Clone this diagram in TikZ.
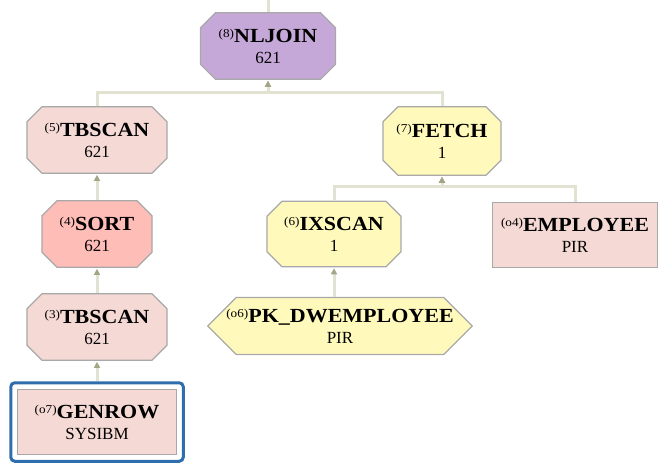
\documentclass[tikz,border=0pt]{standalone}
\usepackage{fontspec}
\setmainfont{Liberation Serif}
\newfontfamily\namefamily{Liberation Serif}[FakeStretch=1.1]
\usetikzlibrary{arrows.meta,shapes.misc,shapes.symbols,fit}

\definecolor{joinpurple}{HTML}{C6A8D8}
\definecolor{scanpink}{HTML}{F5D9D5}
\definecolor{sortpink}{HTML}{FFBDB8}
\definecolor{fetchyellow}{HTML}{FFFABC}
\definecolor{boxgray}{HTML}{A8A8A8}
\definecolor{linkbeige}{HTML}{E2E2D2}
\definecolor{tipolive}{HTML}{A4A486}
\definecolor{selblue}{HTML}{2F6EAC}

\newcommand{\stepno}[1]{\raisebox{5pt}{\namefamily\fontsize{12}{12}\selectfont\mdseries(#1)}}
\newcommand{\opname}[1]{{\namefamily\fontsize{20}{22}\selectfont\bfseries #1}}

\begin{document}
\begin{tikzpicture}[
  x=1pt, y=-1pt,
  every node/.style={font=\fontsize{17}{21}\selectfont},
  opbox/.style={
    chamfered rectangle, chamfered rectangle sep=7.5pt,
    draw=boxgray, line width=1.2pt, align=center,
    inner xsep=0pt, inner ysep=8.5pt, text width=#1
  },
  tablebox/.style={
    rectangle, draw=boxgray, line width=1.5pt, fill=scanpink,
    align=center, inner sep=0pt
  },
  indexbox/.style={
    signal, signal to=west and east, signal pointer angle=90,
    draw=boxgray, line width=1.2pt, fill=fetchyellow,
    align=center, inner xsep=-10pt, inner ysep=0pt
  },
  selframe/.style={
    rectangle, rounded corners=4pt, draw=selblue, line width=3pt, inner sep=6pt
  },
  link/.style={
    draw=linkbeige, line width=3pt,
    -{Triangle[length=6pt,width=6pt,color=tipolive]}, shorten >=1pt
  },
  stub/.style={draw=linkbeige, line width=3pt},
]
\useasboundingbox (0,0) rectangle (660,463);

% --- Nodes ---
\node[opbox=120pt, fill=joinpurple] (nljoin) at (268,46)
  {\stepno{8}\opname{NLJOIN}\\621};

\node[opbox=125pt, fill=scanpink] (tbscanB) at (97,140)
  {\stepno{5}\opname{TBSCAN}\\621};

\node[opbox=103pt, fill=fetchyellow, inner ysep=9.5pt] (fetch) at (442,141)
  {\stepno{7}\opname{FETCH}\\1};

\node[opbox=95pt, fill=sortpink] (sort) at (97,234)
  {\stepno{4}\opname{SORT}\\621};

\node[opbox=119pt, fill=fetchyellow, inner ysep=8pt] (ixscan) at (334,234)
  {\stepno{6}\opname{IXSCAN}\\1};

\node[tablebox, minimum width=165pt, minimum height=65pt] (employee) at (575,235)
  {\stepno{o4}\opname{EMPLOYEE}\\PIR};

\node[opbox=125pt, fill=scanpink] (tbscanA) at (97,327)
  {\stepno{3}\opname{TBSCAN}\\621};

\node[indexbox, minimum height=57pt] (pkindex) at (340,326)
  {\stepno{o6}\opname{PK\_DWEMPLOYEE}\\PIR};

\node[tablebox, minimum width=159pt, minimum height=65pt] (genrow) at (97,422)
  {\stepno{o7}\opname{GENROW}\\SYSIBM};
\node[selframe, fit=(genrow)] (genrowsel) {};

\coordinate (topout) at (268,0);

% --- Connectors ---
\draw[stub] (nljoin.north) -- (topout);

% children of NLJOIN
\draw[link] (tbscanB.north) |- ([yshift=-13pt]nljoin.south) -- (nljoin.south);
\draw[link] (fetch.north) |- ([yshift=-13pt]nljoin.south) -- (nljoin.south);

% children of FETCH
\draw[link] (ixscan.north) |- ([yshift=-11pt]fetch.south) -- (fetch.south);
\draw[link] (employee.north) |- ([yshift=-11pt]fetch.south) -- (fetch.south);

% single chains
\draw[link] (sort.north) -- (tbscanB.south);
\draw[link] (tbscanA.north) -- (sort.south);
\draw[link] (genrowsel.north) -- (tbscanA.south);
\draw[link] (ixscan.south |- pkindex.north) -- (ixscan.south);

\end{tikzpicture}
\end{document}
